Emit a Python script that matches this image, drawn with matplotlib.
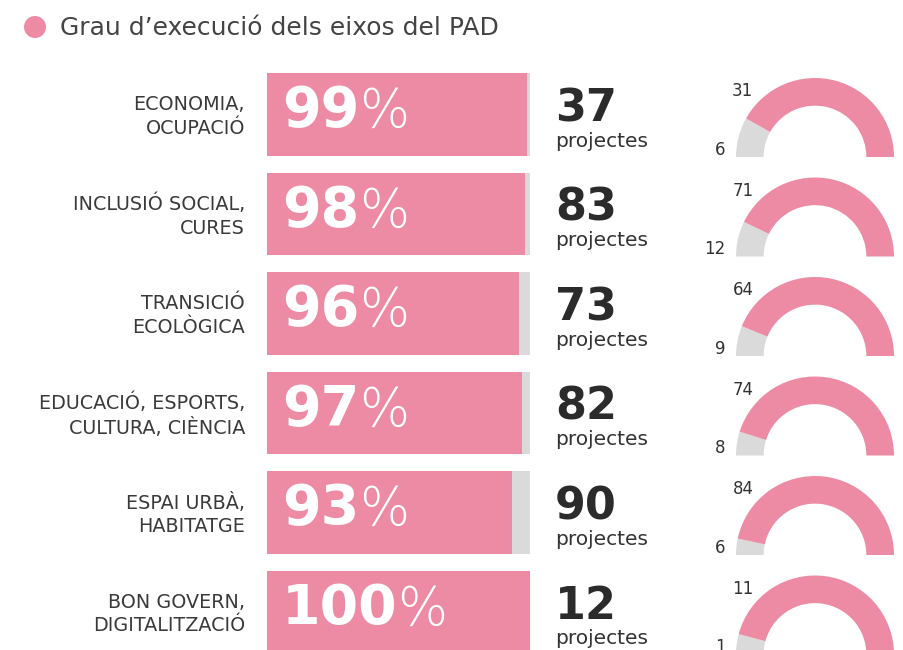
import matplotlib.pyplot as plt
import matplotlib.patches as patches

W, H = 904, 650
PINK = '#ec8ba3'
GREY = '#dadada'
DARK = '#333333'

labels = ['ECONOMIA,\nOCUPACIÓ', 'INCLUSIÓ SOCIAL,\nCURES', 'TRANSICIÓ\nECOLÒGICA',
          'EDUCACIÓ, ESPORTS,\nCULTURA, CIÈNCIA', 'ESPAI URBÀ,\nHABITATGE', 'BON GOVERN,\nDIGITALITZACIÓ']
pct = [99, 98, 96, 97, 93, 100]
projects = [37, 83, 73, 82, 90, 12]
done = [31, 71, 64, 74, 84, 11]
pending = [6, 12, 9, 8, 6, 1]
other = [0, 0, 0, 0, 0, 0]

fig = plt.figure(figsize=(W / 100, H / 100), dpi=100)

# title row
top = fig.add_axes([0, 0, 1, 1])
top.set_xlim(0, W)
top.set_ylim(H, 0)
top.axis('off')
top.add_patch(patches.Circle((35, 27), 11, color=PINK, lw=0))
top.text(60, 28, 'Grau d\u2019execució dels eixos del PAD', fontsize=18,
         color='#444444', va='center', ha='left')

# bars: row i centred at 114.5 + 99.5*i px
row_h = 99.5
y0 = 114.5
ax = fig.add_axes([267 / W, 0, 263 / W, 1])
ax.set_xlim(0, 100)
ax.set_ylim((H - y0) / row_h, -y0 / row_h)
ax.axis('off')
rows = range(len(labels))
ax.barh(list(rows), [100] * len(pct), height=0.834, color=GREY, lw=0)
ax.barh(list(rows), pct, height=0.834, color=PINK, lw=0)

for i in rows:
    ax.text(-8.4, i + 0.02, labels[i], ha='right', va='center', fontsize=13.8,
            color='#3a3a3a', linespacing=1.3)
    t = ax.text(5.6, i - 0.03, str(pct[i]), ha='left', va='center', fontsize=40,
                color='white', fontweight='black')
    ax.annotate('%', xy=(1, 0), xycoords=t, ha='left', va='bottom', fontsize=38,
                color='white', fontweight='light')
    ax.text(109.5, i - 0.06, str(projects[i]), ha='left', va='center', fontsize=32,
            color='#2b2b2b', fontweight='black')
    ax.text(109.5, i + 0.27, 'projectes', ha='left', va='center', fontsize=14.5,
            color=DARK)

# half donuts
R = 79
for i in rows:
    cy = 157 + row_h * i
    dax = fig.add_axes([(815 - R) / W, 1 - (cy + R) / H, 2 * R / W, 2 * R / H])
    total = pending[i] + done[i] + other[i]
    dax.pie([pending[i], done[i], other[i], total], startangle=180,
            counterclock=False, radius=1,
            colors=[GREY, PINK, GREY, 'none'],
            wedgeprops=dict(width=0.35, lw=0))
    dax.set_xlim(-1, 1)
    dax.set_ylim(-1, 1)
    dax.set_aspect('equal')
    dax.text(-0.78, 0.72, str(done[i]), ha='right', va='bottom', fontsize=12, color=DARK)
    dax.text(-1.13, 0.09, str(pending[i]), ha='right', va='center', fontsize=12, color=DARK)
    dax.text(1.1, 0.09, str(other[i]), ha='left', va='center', fontsize=12, color=DARK)

fig.savefig('out.png', dpi=100)
